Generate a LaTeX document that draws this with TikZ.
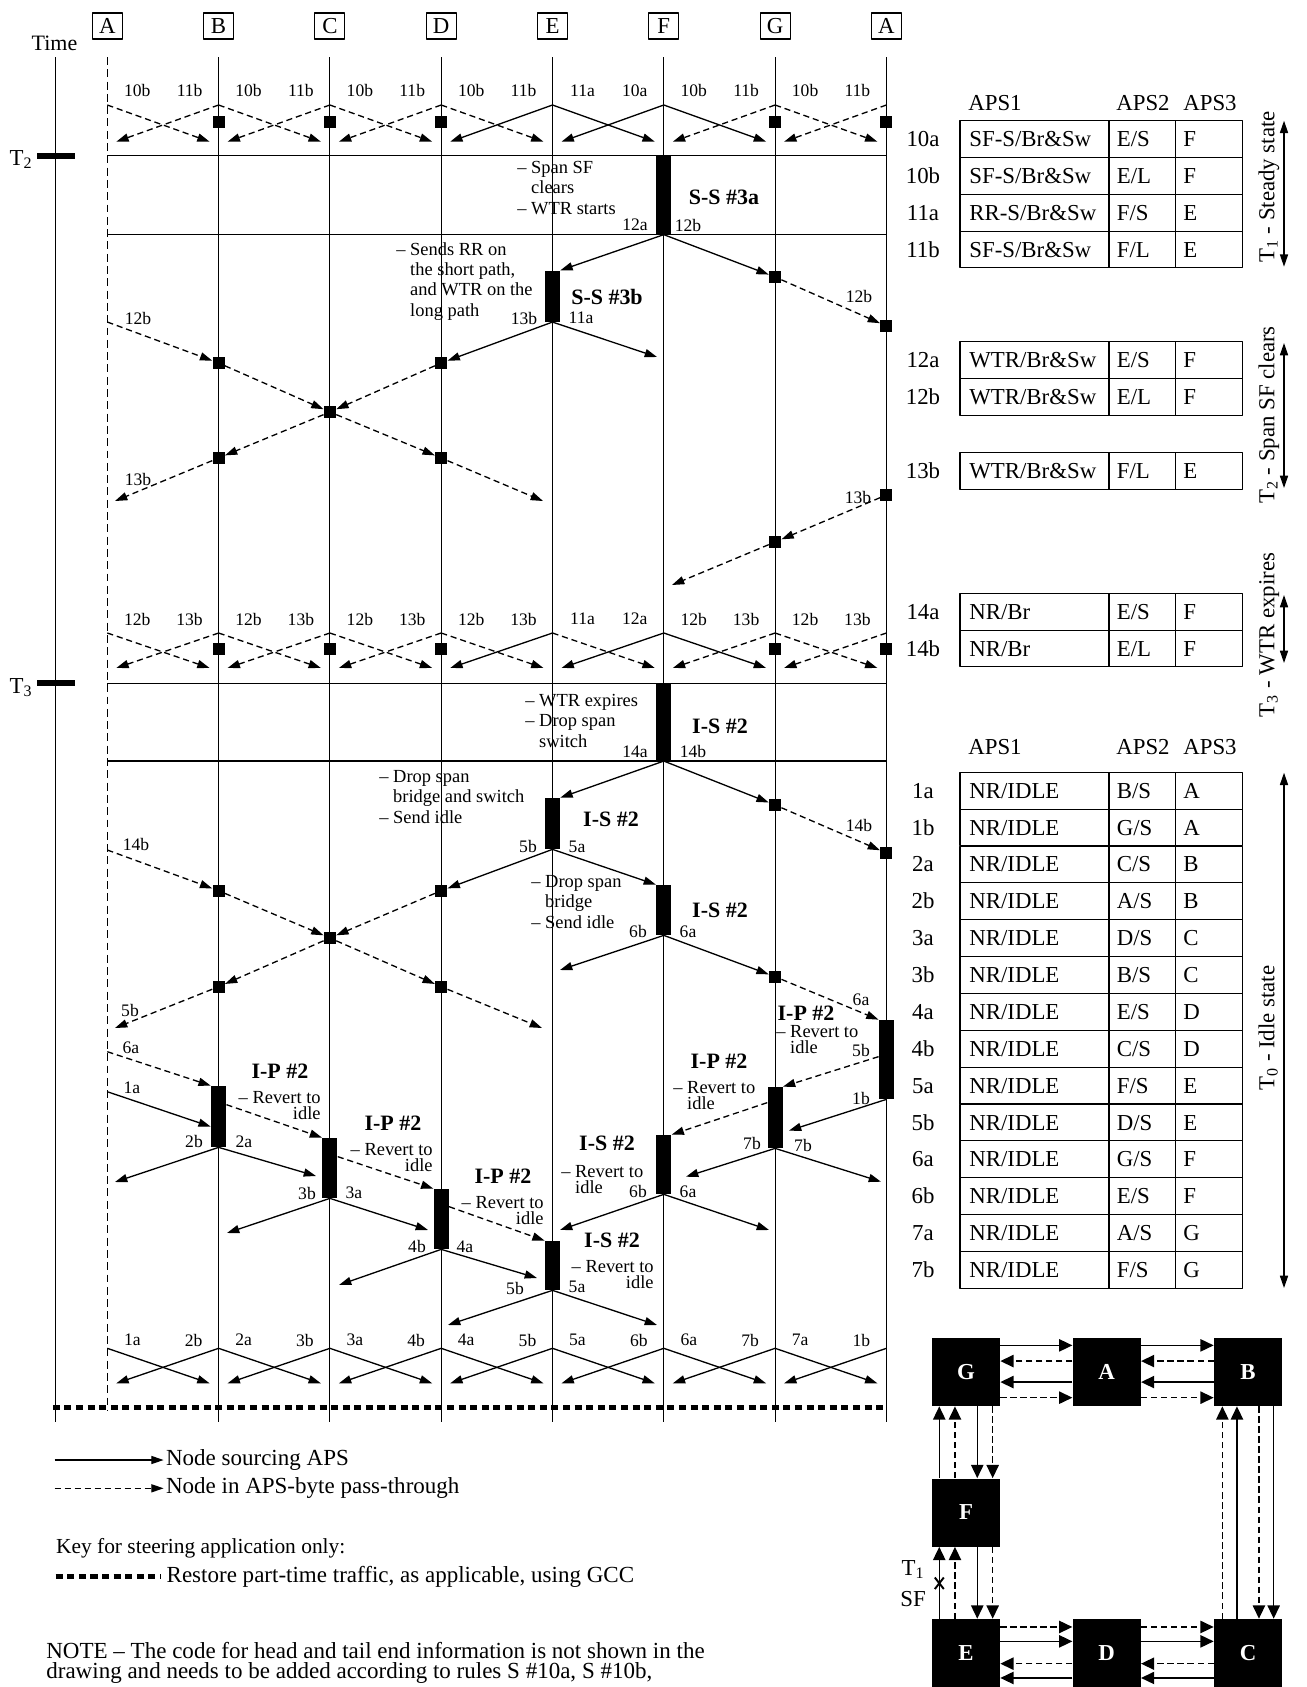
\documentclass[tikz,border=0pt]{standalone}
\usepackage{fontspec}
\setmainfont{Liberation Serif}
\usetikzlibrary{arrows.meta,calc}

\newcommand{\lblfont}{\fontsize{10}{11}\selectfont}
\newcommand{\notefont}{\fontsize{10.5}{11.6}\selectfont}
\newcommand{\tightfont}{\fontsize{10.5}{9.2}\selectfont}
\newcommand{\statefont}{\fontsize{12.5}{14}\selectfont\bfseries}
\newcommand{\tabfont}{\fontsize{13}{15}\selectfont}
\newcommand{\legfont}{\fontsize{13.1}{15}\selectfont}

\tikzset{
  colbox/.style={draw, line width=0.6pt, minimum width=0.6cm, minimum height=0.52cm, inner sep=0pt, font=\tabfont},
  colline/.style={line width=0.55pt},
  tline/.style={line width=0.9pt},
  pthru/.style={fill=black, minimum size=0.24cm, inner sep=0pt},
  evbar/.style={fill=black, minimum width=0.3cm, inner sep=0pt},
  src/.style={->, line width=0.75pt},
  pass/.style={->, line width=0.75pt, dash pattern=on 3.5pt off 2.2pt},
  gcc/.style={line width=2.8pt, dash pattern=on 4pt off 2.6pt},
  lbl/.style={font=\lblfont, inner sep=0pt},
  state/.style={font=\statefont, inner sep=0pt},
  note/.style={font=\notefont, inner sep=0pt, anchor=north west, align=left},
  tight/.style={font=\tightfont, inner sep=0pt, anchor=north west, align=left},
  tab/.style={font=\tabfont, inner sep=0pt, text height=8.6pt, text depth=0pt},
  legtext/.style={font=\legfont, inner sep=0pt, anchor=west},
  cell/.style={line width=0.6pt},
  ringbox/.style={fill=black, minimum size=1.36cm, inner sep=0pt, text=white, font=\tabfont\bfseries},
  ringsrc/.style={->, line width=0.75pt, >={Triangle[length=7.5pt,width=7pt]}},
  ringpass/.style={ringsrc, dash pattern=on 3.5pt off 2.2pt},
}

% event bar: name, x, top y, bottom y
\newcommand{\evbar}[4]{\node[evbar, minimum height={(#4-#3)*0.02cm}] (#1) at (#2,{(#3+#4)/2}) {};}
% APS table row: top y, label, APS1, APS2, APS3
\newcommand{\aprow}[5]{%
  \draw[cell] (960,#1) rectangle (1109,{#1+36.8});
  \draw[cell] (1109,#1) rectangle (1175.7,{#1+36.8});
  \draw[cell] (1175.7,#1) rectangle (1242.7,{#1+36.8});
  \node[tab] (r#2) at (923,{#1+18.4}) {#2};
  \node[tab, anchor=west] (r#2-1) at (969,{#1+18.4}) {#3};
  \node[tab, anchor=west] (r#2-2) at (1116.5,{#1+18.4}) {#4};
  \node[tab, anchor=west] (r#2-3) at (1183,{#1+18.4}) {#5};
}

\begin{document}
\begin{tikzpicture}[x=0.02cm, y=-0.02cm, >={Triangle[length=7pt,width=4.6pt]}, line join=round]
	\useasboundingbox (0,0) rectangle (1307,1687);
	\def\xA{107.3} \def\xB{218.6} \def\xC{329.9} \def\xD{441.2}
	\def\xE{552.5} \def\xF{663.8} \def\xG{775.1} \def\xAA{886.4}
	% ring nodes and their lines
	\foreach \x/\nm/\lab in {\xA/A0/A,\xB/B/B,\xC/C/C,\xD/D/D,\xE/E/E,\xF/F/F,\xG/G/G,\xAA/A1/A}
		\node[colbox] (h\nm) at (\x,26) {\lab};
	\draw[colline, dash pattern=on 4.5pt off 2.5pt] (\xA,57) -- (\xA,1410);
	\foreach \x in {\xB,\xC,\xD,\xE,\xF,\xG,\xAA}
		\draw[colline] (\x,57) -- (\x,1421.7);
	% time axis
	\node[tab, font=\fontsize{12.5}{14}\selectfont] (time) at (54.5,43) {Time};
	\draw[colline] (55,57) -- (55,1421.7);
	\draw[line width=3.4pt] (37,155.7) -- (75,155.7) (37,683.3) -- (75,683.3);
	\node[tab] (T2) at (21,158) {T\textsubscript{2}};
	\node[tab] (T3) at (21,686) {T\textsubscript{3}};
	\foreach \y in {155.7,234.3,683.3,760.7}
		\draw[tline] (\xA,\y) -- (\xAA,\y);

	% T1 steady state
	\foreach \i/\sr/\sl/\la/\lb in {0/pass/pass/10b/11b,1/pass/pass/10b/11b,2/pass/pass/10b/11b,3/pass/src/10b/11b,4/src/src/11a/10a,5/src/pass/10b/11b,6/pass/pass/10b/11b}{
		\pgfmathsetmacro\xl{107.3+111.3*\i}
		\pgfmathsetmacro\xr{\xl+111.3}
		\coordinate (up\i) at (\xl,105);
		\coordinate (vp\i) at (\xr,105);
		\coordinate (uq\i) at (\xl+9,141.7);
		\coordinate (vq\i) at (\xr-9,141.7);
		\draw[\sr] (up\i) -- (vq\i);
		\draw[\sl] (vp\i) -- (uq\i);
		\node[lbl] (ka\i) at (\xl+30,90.7) {\la};
		\node[lbl] (kb\i) at (\xr-29,90.7) {\lb};
	}
	\foreach \x/\nm in {\xB/B,\xC/C,\xD/D,\xG/G,\xAA/A1}
		\node[pthru] (s\nm) at (\x,121.7) {};

	% T2 span SF clears
	\evbar{SSa}{\xF}{155.7}{234.3}
	\node[note] (nSSa) at (517,161) {-- Span SF\\\hphantom{-- }clears\\-- WTR starts};
	\node[lbl] (l12a) at (635,225) {12a};
	\node[lbl] (l12b) at (688,225) {12b};
	\node[state] (tSSa) at (724,197) {S-S \#3a};
	\evbar{SSb}{\xE}{270.7}{321.7}
	\node[pthru] (g1) at (\xG,277) {};
	\draw[src] (SSa.south) -- (SSb.north east);
	\draw[src] (SSa.south) -- (g1);
	\node[note] (nSSb) at (396,242) {-- Sends RR on\\\hphantom{-- }the short path,\\\hphantom{-- }and WTR on the\\\hphantom{-- }long path};
	\node[lbl] (l13b) at (524,318) {13b};
	\node[lbl] (l11a) at (581,318) {11a};
	\node[state] (tSSb) at (607,297) {S-S \#3b};
	\node[pthru] (aa1) at (\xAA,326) {};
	\draw[pass] (g1) -- (aa1);
	\node[lbl] at (859,296) {12b};
	\coordinate (a1) at (\xA,322);
	\node[lbl] at (138,318) {12b};
	\node[pthru] (b1) at (\xB,363) {};
	\node[pthru] (d1) at (\xD,363) {};
	\draw[pass] (a1) -- (b1);
	\draw[src] (SSb.south) -- (d1);
	\coordinate (f1) at (657,357);
	\draw[src] (SSb.south) -- (f1);
	\node[pthru] (c1) at (\xC,412) {};
	\draw[pass] (b1) -- (c1);
	\draw[pass] (d1) -- (c1);
	\node[pthru] (b2) at (\xB,458) {};
	\node[pthru] (d2) at (\xD,458) {};
	\draw[pass] (c1) -- (b2);
	\draw[pass] (c1) -- (d2);
	\coordinate (a2) at (115,501);
	\draw[pass] (b2) -- (a2);
	\node[lbl] at (138,479) {13b};
	\coordinate (e2) at (543,501);
	\draw[pass] (d2) -- (e2);
	\node[pthru] (aa2) at (\xAA,495) {};
	\node[lbl] at (858,497) {13b};
	\node[pthru] (g2) at (\xG,542) {};
	\draw[pass] (aa2) -- (g2);
	\coordinate (f2) at (672,585);
	\draw[pass] (g2) -- (f2);

	% WTR running
	\foreach \i/\sr/\sl/\la/\lb in {0/pass/pass/12b/13b,1/pass/pass/12b/13b,2/pass/pass/12b/13b,3/pass/src/12b/13b,4/pass/src/11a/12a,5/src/pass/12b/13b,6/pass/pass/12b/13b}{
		\pgfmathsetmacro\xl{107.3+111.3*\i}
		\pgfmathsetmacro\xr{\xl+111.3}
		\coordinate (wp\i) at (\xl,633);
		\coordinate (zp\i) at (\xr,633);
		\coordinate (wq\i) at (\xl+9,668);
		\coordinate (zq\i) at (\xr-9,668);
		\draw[\sr] (wp\i) -- (zq\i);
		\draw[\sl] (zp\i) -- (wq\i);
		\node[lbl] (ma\i) at (\xl+30,619) {\la};
		\node[lbl] (mb\i) at (\xr-29,619) {\lb};
	}
	\foreach \x/\nm in {\xB/B,\xC/C,\xD/D,\xG/G,\xAA/A1}
		\node[pthru] (t\nm) at (\x,649) {};

	% T3 WTR expires
	\evbar{ISa}{\xF}{683.3}{760.7}
	\node[note] (nISa) at (525,694) {-- WTR expires\\-- Drop span\\\hphantom{-- }switch};
	\node[lbl] at (635,751.7) {14a};
	\node[lbl] at (693,751.7) {14b};
	\node[state] at (720,726.7) {I-S \#2};
	\evbar{ISb}{\xE}{798}{849}
	\node[pthru] (g3) at (\xG,805) {};
	\draw[src] (ISa.south) -- (ISb.north east);
	\draw[src] (ISa.south) -- (g3);
	\node[note] (nISb) at (379,770) {-- Drop span\\\hphantom{-- }bridge and switch\\-- Send idle};
	\node[state] at (611,819) {I-S \#2};
	\node[lbl] at (528,846.7) {5b};
	\node[lbl] at (577,846.7) {5a};
	\node[pthru] (aa3) at (\xAA,853) {};
	\draw[pass] (g3) -- (aa3);
	\node[lbl] at (859,825) {14b};
	\coordinate (a3) at (\xA,850);
	\node[lbl] at (136,844) {14b};
	\node[pthru] (b3) at (\xB,890.7) {};
	\node[pthru] (d3) at (\xD,890.7) {};
	\draw[pass] (a3) -- (b3);
	\draw[src] (ISb.south) -- (d3);
	\evbar{ISc}{\xF}{885}{935}
	\draw[src] (ISb.south) -- (ISc.north west);
	\node[note] (nISc) at (531,875) {-- Drop span\\\hphantom{-- }bridge\\-- Send idle};
	\node[state] at (720,910) {I-S \#2};
	\node[lbl] at (638,931.7) {6b};
	\node[lbl] at (688,931.7) {6a};
	\node[pthru] (c3) at (\xC,938) {};
	\draw[pass] (b3) -- (c3);
	\draw[pass] (d3) -- (c3);
	\node[pthru] (b4) at (\xB,986.7) {};
	\node[pthru] (d4) at (\xD,986.7) {};
	\draw[pass] (c3) -- (b4);
	\draw[pass] (c3) -- (d4);
	\coordinate (e4) at (560,970);
	\node[pthru] (g4) at (\xG,976.7) {};
	\draw[src] (ISc.south) -- (e4);
	\draw[src] (ISc.south) -- (g4);
	\coordinate (a4) at (115,1028);
	\draw[pass] (b4) -- (a4);
	\node[lbl] at (130,1010) {5b};
	\coordinate (e5) at (542,1028);
	\draw[pass] (d4) -- (e5);

	% revert to idle
	\evbar{IPaa}{\xAA}{1020}{1099}
	\draw[pass] (g4) -- (IPaa.north west);
	\node[lbl] at (861,1000) {6a};
	\node[state] at (806,1013) {I-P \#2};
	\node[tight] at (776,1025) {-- Revert to\\\hphantom{-- }idle};
	\node[lbl] at (861,1050) {5b};
	\node[lbl] at (861,1098) {1b};
	\coordinate (a5) at (\xA,1051.7);
	\node[lbl] at (131,1047.7) {6a};
	\coordinate (a6) at (\xA,1091.7);
	\node[lbl] at (132,1088) {1a};
	\evbar{IPb}{\xB}{1086}{1147}
	\draw[pass] (a5) -- (IPb.north west);
	\draw[src] (a6) -- ($(IPb.north west)+(0,41)$);
	\node[state] at (280,1071.7) {I-P \#2};
	\node[tight, align=right, anchor=north east] at (321,1091) {-- Revert to\\idle};
	\node[lbl] at (194,1141.7) {2b};
	\node[lbl] at (244,1141.7) {2a};
	\evbar{IPc}{\xC}{1138}{1198}
	\draw[pass] ($(IPb.north east)+(0,19)$) -- (IPc.north west);
	\coordinate (a7) at (115,1182);
	\coordinate (c7) at (316,1176);
	\draw[src] (IPb.south) -- (a7);
	\draw[src] (IPb.south) -- (c7);
	\node[state] at (393,1123) {I-P \#2};
	\node[tight, align=right, anchor=north east] at (433,1143) {-- Revert to\\idle};
	\node[lbl] at (307,1193) {3b};
	\node[lbl] at (354,1193) {3a};
	\evbar{IPd}{\xD}{1189}{1249}
	\draw[pass] ($(IPc.north east)+(0,19)$) -- (IPd.north west);
	\coordinate (b8) at (227,1233);
	\coordinate (d8) at (428,1230);
	\draw[src] (IPc.south) -- (b8);
	\draw[src] (IPc.south) -- (d8);
	\node[state] at (503,1176.7) {I-P \#2};
	\node[tight, align=right, anchor=north east] at (544,1196) {-- Revert to\\idle};
	\node[lbl] at (417,1246.7) {4b};
	\node[lbl] at (465,1246.7) {4a};
	\evbar{ISd}{\xE}{1241}{1290}
	\draw[pass] ($(IPd.north east)+(0,18)$) -- (ISd.north west);
	\coordinate (c9) at (339,1285);
	\coordinate (e9) at (537,1278);
	\draw[src] (IPd.south) -- (c9);
	\draw[src] (IPd.south) -- (e9);
	\node[state] at (612,1240) {I-S \#2};
	\node[tight, align=right, anchor=north east] at (654,1260) {-- Revert to\\idle};
	\node[lbl] at (515,1288) {5b};
	\node[lbl] at (577,1286.7) {5a};
	\coordinate (d10) at (448,1325);
	\coordinate (f10) at (657,1325);
	\draw[src] (ISd.south) -- (d10);
	\draw[src] (ISd.south) -- (f10);
	\evbar{ISe}{\xF}{1135}{1194}
	\node[state] at (607,1143) {I-S \#2};
	\node[tight] at (561,1165) {-- Revert to\\\hphantom{-- }idle};
	\node[lbl] at (638,1191.7) {6b};
	\node[lbl] at (688,1191.7) {6a};
	\coordinate (e11) at (560,1230);
	\coordinate (g11) at (769,1230);
	\draw[src] (ISe.south) -- (e11);
	\draw[src] (ISe.south) -- (g11);
	\evbar{IPg}{\xG}{1087}{1148}
	\node[state] at (719,1061.7) {I-P \#2};
	\node[tight] at (673,1081) {-- Revert to\\\hphantom{-- }idle};
	\node[lbl] at (752,1143) {7b};
	\node[lbl] at (803,1145) {7b};
	\draw[pass] ($(IPg.north west)+(0,16)$) -- (ISe.north east);
	\coordinate (f12) at (686,1176.7);
	\coordinate (aa12) at (881,1181.7);
	\draw[src] (IPg.south) -- (f12);
	\draw[src] (IPg.south) -- (aa12);
	\draw[pass] ($(IPaa.north west)+(0,37)$) -- (IPg.north east);
	\draw[src] (IPaa.south) -- ($(IPg.north east)+(6,44)$);

	% T0 idle state
	\foreach \i/\la/\lb in {0/1a/2b,1/2a/3b,2/3a/4b,3/4a/5b,4/5a/6b,5/6a/7b,6/7a/1b}{
		\pgfmathsetmacro\xl{107.3+111.3*\i}
		\pgfmathsetmacro\xr{\xl+111.3}
		\coordinate (ip\i) at (\xl,1348.3);
		\coordinate (jp\i) at (\xr,1348.3);
		\coordinate (iq\i) at (\xl+9,1383.3);
		\coordinate (jq\i) at (\xr-9,1383.3);
		\draw[src] (ip\i) -- (jq\i);
		\draw[src] (jp\i) -- (iq\i);
		\node[lbl] (na\i) at (\xl+25,1340) {\la};
		\node[lbl] (nb\i) at (\xr-25,1340) {\lb};
	}
	\draw[gcc] (52.8,1407.3) -- (887,1407.3);

	% key
	\coordinate (k1) at (54.5,1460);
	\coordinate (k2) at (163.6,1460);
	\draw[src] (k1) -- (k2) node[legtext, right=1pt] (ksrc) {Node sourcing APS};
	\coordinate (k3) at (54.5,1488.3);
	\coordinate (k4) at (163.6,1488.3);
	\draw[pass] (k3) -- (k4) node[legtext, right=1pt] (kpass) {Node in APS-byte pass-through};
	\node[legtext, font=\fontsize{12.2}{14}\selectfont] (ksteer) at (55.7,1548) {Key for steering application only:};
	\coordinate (k5) at (55.7,1576.7);
	\coordinate (k6) at (160.7,1576.7);
	\draw[gcc] (k5) -- (k6) node[legtext, right=2pt] (kgcc) {Restore part-time traffic, as applicable, using GCC};
	\node[legtext] (note1) at (46,1650) {NOTE -- The code for head and tail end information is not shown in the};
	\node[legtext] (note2) at (46,1673.3) {drawing and needs to be added according to rules S \#10a, S \#10b,};

	% APS byte tables
	\node[tab] at (995,103.3) {APS1};
	\node[tab] at (1143,103.3) {APS2};
	\node[tab] at (1210,103.3) {APS3};
	\aprow{120.7}{10a}{SF-S/Br\&Sw}{E/S}{F}
	\aprow{157.5}{10b}{SF-S/Br\&Sw}{E/L}{F}
	\aprow{194.3}{11a}{RR-S/Br\&Sw}{F/S}{E}
	\aprow{231.1}{11b}{SF-S/Br\&Sw}{F/L}{E}
	\aprow{341.7}{12a}{WTR/Br\&Sw}{E/S}{F}
	\aprow{378.5}{12b}{WTR/Br\&Sw}{E/L}{F}
	\aprow{452.3}{13b}{WTR/Br\&Sw}{F/L}{E}
	\aprow{593.3}{14a}{NR/Br}{E/S}{F}
	\aprow{630.1}{14b}{NR/Br}{E/L}{F}
	\node[tab] at (995,746.7) {APS1};
	\node[tab] at (1143,746.7) {APS2};
	\node[tab] at (1210,746.7) {APS3};
	\foreach \lab/\aii/\aiii [count=\k from 0] in {1a/{B/S}/A,1b/{G/S}/A,2a/{C/S}/B,2b/{A/S}/B,3a/{D/S}/C,3b/{B/S}/C,4a/{E/S}/D,4b/{C/S}/D,5a/{F/S}/E,5b/{D/S}/E,6a/{G/S}/F,6b/{E/S}/F,7a/{A/S}/G,7b/{F/S}/G}{
		\pgfmathsetmacro\ty{772.3+36.86*\k}
		\aprow{\ty}{\lab}{NR/IDLE}{\aii}{\aiii}
	}
	\draw[<->, line width=0.75pt] (1284,120.7) -- (1284,266.7);
	\node[tab, rotate=90] (ph1) at (1266.7,187) {T\textsubscript{1} - Steady state};
	\draw[<->, line width=0.75pt] (1284,343) -- (1284,488);
	\node[tab, rotate=90] (ph2) at (1266.7,415) {T\textsubscript{2} - Span SF clears};
	\draw[<->, line width=0.75pt] (1284,595) -- (1284,663);
	\node[tab, rotate=90] (ph3) at (1266.7,635) {T\textsubscript{3} - WTR expires};
	\draw[<->, line width=0.75pt] (1284,772.7) -- (1284,1288);
	\node[tab, rotate=90] (ph0) at (1266.7,1028) {T\textsubscript{0} - Idle state};

	% ring
	\node[ringbox] (rG) at (966,1372) {G};
	\node[ringbox] (rA) at (1106.7,1372) {A};
	\node[ringbox] (rB) at (1248,1372) {B};
	\node[ringbox] (rF) at (966,1512.5) {F};
	\node[ringbox] (rE) at (966,1653) {E};
	\node[ringbox] (rD) at (1106.7,1653) {D};
	\node[ringbox] (rC) at (1248,1653) {C};
	\foreach \p/\q in {rG/rA,rA/rB}{
		\draw[ringsrc] ($(\p.north east)+(0,7.7)$) -- ($(\q.north west)+(0,7.7)$);
		\draw[ringpass] ($(\q.north west)+(0,23.4)$) -- ($(\p.north east)+(0,23.4)$);
		\draw[ringsrc] ($(\q.north west)+(0,44.4)$) -- ($(\p.north east)+(0,44.4)$);
		\draw[ringpass] ($(\p.north east)+(0,60)$) -- ($(\q.north west)+(0,60)$);
	}
	\foreach \p/\q in {rE/rD,rD/rC}{
		\draw[ringpass] ($(\p.north east)+(0,8.3)$) -- ($(\q.north west)+(0,8.3)$);
		\draw[ringsrc] ($(\p.north east)+(0,22.7)$) -- ($(\q.north west)+(0,22.7)$);
		\draw[ringpass] ($(\q.north west)+(0,45)$) -- ($(\p.north east)+(0,45)$);
		\draw[ringsrc] ($(\q.north west)+(0,59.3)$) -- ($(\p.north east)+(0,59.3)$);
	}
	\foreach \p/\q in {rG/rF,rF/rE}{
		\draw[ringsrc] ($(\q.north west)+(7.6,0)$) -- ($(\p.south west)+(7.6,0)$);
		\draw[ringpass] ($(\q.north west)+(23.3,0)$) -- ($(\p.south west)+(23.3,0)$);
		\draw[ringsrc] ($(\p.south west)+(45.6,0)$) -- ($(\q.north west)+(45.6,0)$);
		\draw[ringpass] ($(\p.south west)+(61,0)$) -- ($(\q.north west)+(61,0)$);
	}
	\draw[ringpass] ($(rC.north west)+(8.7,0)$) -- ($(rB.south west)+(8.7,0)$);
	\draw[ringsrc] ($(rC.north west)+(23.3,0)$) -- ($(rB.south west)+(23.3,0)$);
	\draw[ringpass] ($(rB.south west)+(45.3,0)$) -- ($(rC.north west)+(45.3,0)$);
	\draw[ringsrc] ($(rB.south west)+(60,0)$) -- ($(rC.north west)+(60,0)$);
	% span failure mark
	\draw[line width=1.1pt] (934.8,1577.5) -- (943.8,1589) (943.8,1577.5) -- (934.8,1589);
	\node[tab] (sfT) at (913,1568) {T\textsubscript{1}};
	\node[tab] (sfL) at (913,1599) {SF};
\end{tikzpicture}
\end{document}
